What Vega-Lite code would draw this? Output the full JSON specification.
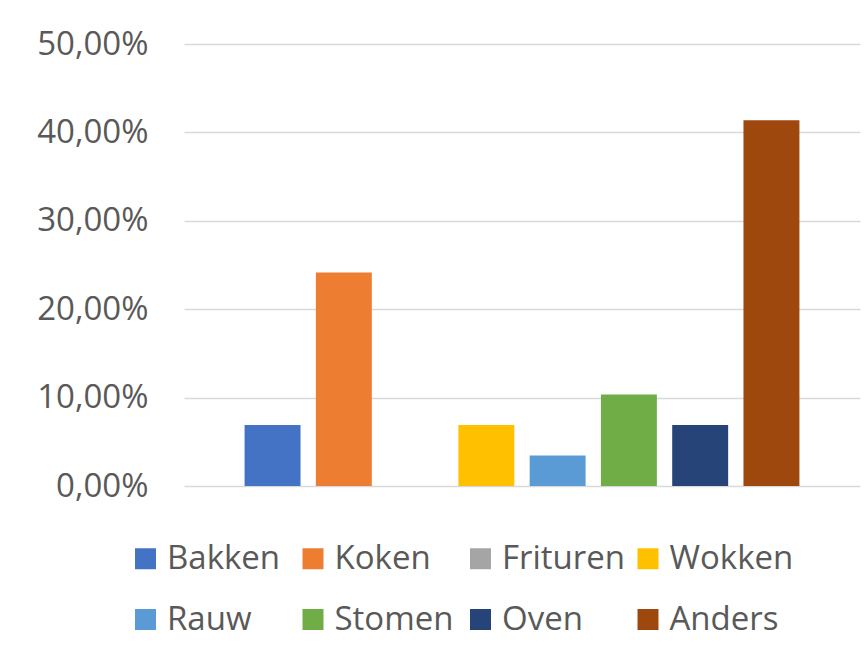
{
  "$schema": "https://vega.github.io/schema/vega-lite/v6.json",
  "width": 676,
  "height": 442,
  "autosize": {"type": "none"},
  "padding": {"left": 184, "top": 44, "right": 7, "bottom": 170},
  "background": "white",
  "config": {
    "view": {"stroke": null},
    "font": "Open Sans"
  },
  "data": {
    "values": [
      {"methode": "Bakken", "aandeel": 0.069},
      {"methode": "Koken", "aandeel": 0.2414},
      {"methode": "Frituren", "aandeel": 0.0},
      {"methode": "Wokken", "aandeel": 0.069},
      {"methode": "Rauw", "aandeel": 0.0345},
      {"methode": "Stomen", "aandeel": 0.1034},
      {"methode": "Oven", "aandeel": 0.069},
      {"methode": "Anders", "aandeel": 0.4138}
    ]
  },
  "mark": {"type": "bar"},
  "encoding": {
    "x": {
      "field": "methode",
      "type": "nominal",
      "sort": ["Bakken", "Koken", "Frituren", "Wokken", "Rauw", "Stomen", "Oven", "Anders"],
      "scale": {"paddingInner": 0.215, "paddingOuter": 0.85},
      "axis": null
    },
    "y": {
      "field": "aandeel",
      "type": "quantitative",
      "scale": {"domain": [0, 0.5], "nice": false},
      "axis": {
        "title": null,
        "values": [0, 0.1, 0.2, 0.3, 0.4, 0.5],
        "labelExpr": "replace(format(datum.value, '.2%'), '.', ',')",
        "labelFontSize": 33,
        "labelColor": "#595959",
        "labelFont": "Open Sans",
        "labelPadding": 36,
        "ticks": false,
        "domain": false,
        "gridColor": "#D9D9D9",
        "gridWidth": 1.5
      }
    },
    "color": {
      "field": "methode",
      "type": "nominal",
      "scale": {
        "domain": ["Bakken", "Koken", "Frituren", "Wokken", "Rauw", "Stomen", "Oven", "Anders"],
        "range": ["#4472C4", "#ED7D31", "#A5A5A5", "#FFC000", "#5B9BD5", "#70AD47", "#264478", "#9E480E"]
      },
      "legend": {
        "title": null,
        "orient": "none",
        "legendX": -55,
        "legendY": 498,
        "direction": "horizontal",
        "columns": 4,
        "gridAlign": "all",
        "padding": 0,
        "symbolType": "square",
        "symbolSize": 441,
        "symbolStrokeWidth": 0,
        "labelFontSize": 33,
        "labelColor": "#595959",
        "labelFont": "Open Sans",
        "labelOffset": 5,
        "columnPadding": 5.5,
        "rowPadding": 27,
        "labelLimit": 300
      }
    }
  }
}
